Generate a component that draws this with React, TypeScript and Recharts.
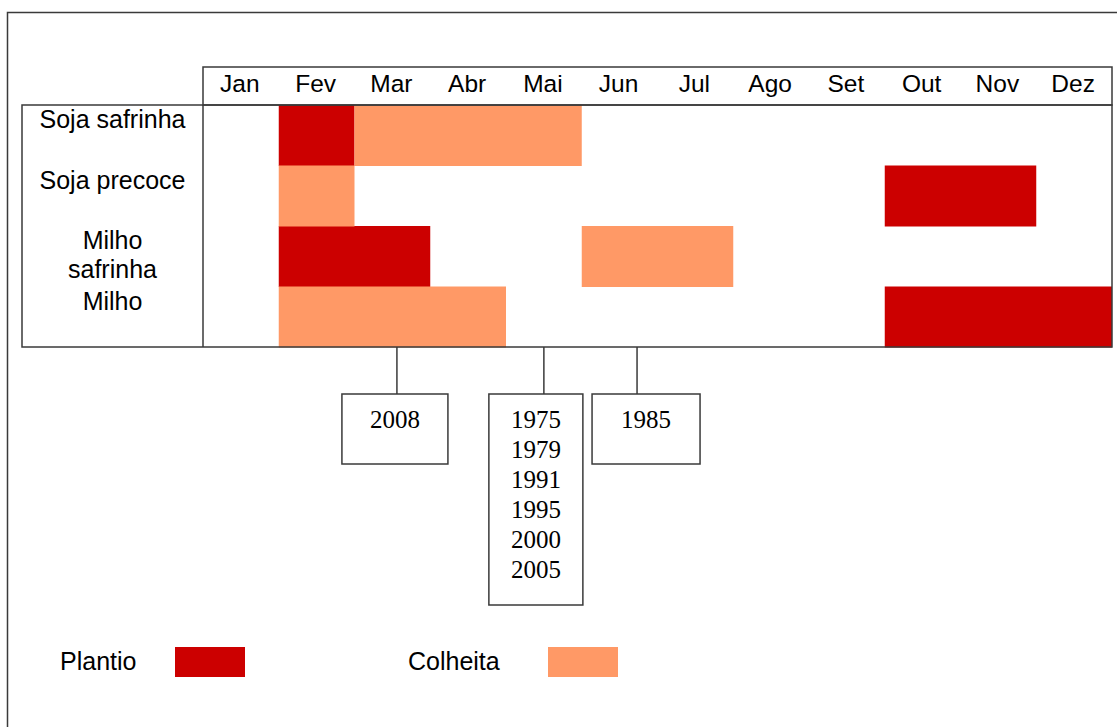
import React from 'react';
import { BarChart, Bar, XAxis, YAxis, ReferenceDot } from 'recharts';

const months = ['Jan', 'Fev', 'Mar', 'Abr', 'Mai', 'Jun', 'Jul', 'Ago', 'Set', 'Out', 'Nov', 'Dez'];
const crops = ['Soja safrinha', 'Soja precoce', 'Milho safrinha', 'Milho'];
const cropLines = [['Soja safrinha'], ['Soja precoce'], ['Milho', 'safrinha'], ['Milho']];
// [start, end) as month index (0 = Jan)
const plantio = [[1, 2], [9, 11], [1, 3], [9, 12]];
const colheita = [[2, 5], [1, 2], [5, 7], [1, 4]];
// year boxes hanging under the calendar, anchored at a month position
const notePos = [2.56, 4.5, 5.73];
const noteYears = [['2008'], ['1975', '1979', '1991', '1995', '2000', '2005'], ['1985']];

const series = [
  { key: 'plantio', name: 'Plantio', color: '#cc0000' },
  { key: 'colheita', name: 'Colheita', color: '#ff9966' },
];

const data = crops.map((crop, i) => ({ crop, plantio: plantio[i], colheita: colheita[i] }));
const monthTicks = months.map((_, i) => i + 0.5);

// layout
const W = 1117;
const H = 727;
const LEFT = 22;
const LABEL_W = 181;
const HEAD_TOP = 67;
const HEAD_H = 38;
const PLOT_RIGHT = 1112;
const PLOT_BOTTOM = 347;
const HALF_ROW = (PLOT_BOTTOM - HEAD_TOP - HEAD_H) / crops.length / 2;
const noteBoxes = [
  { dx: -55, w: 106, h: 70 },
  { dx: -55, w: 94, h: 211 },
  { dx: -45, w: 108, h: 70 },
];
const SANS = '"Liberation Sans", Arial, sans-serif';
const SERIF = '"Liberation Serif", "Times New Roman", serif';
const LINE = '#3a3a3a';

const MonthTick = (props: any) => (
  <text x={props.x - 1} y={92} textAnchor="middle" fontFamily={SANS} fontSize={24.5} fill="#000">
    {months[Math.floor(props.payload.value)]}
  </text>
);

const CropTick = (props: any) => {
  const idx = crops.indexOf(props.payload.value);
  const lines = cropLines[idx] || [props.payload.value];
  return (
    <g>
      {lines.map((l, k) => (
        <text key={k} x={LEFT + LABEL_W / 2} y={props.y - 7 + k * 29} textAnchor="middle"
          fontFamily={SANS} fontSize={25} fill="#000">
          {l}
        </text>
      ))}
    </g>
  );
};

const Note = ({ cx, cy, i }: { cx: number; cy: number; i: number }) => {
  const top = cy + HALF_ROW;
  const boxTop = top + 47;
  const b = noteBoxes[i];
  return (
    <g>
      <line x1={cx} y1={top} x2={cx} y2={boxTop} stroke={LINE} strokeWidth={1.5} />
      <rect x={cx + b.dx} y={boxTop} width={b.w} height={b.h} fill="#fff" stroke={LINE} strokeWidth={1.5} />
      {noteYears[i].map((yr, k) => (
        <text key={yr} x={cx + b.dx + b.w / 2} y={boxTop + 34 + k * 30} textAnchor="middle"
          fontFamily={SERIF} fontSize={25} fill="#000">
          {yr}
        </text>
      ))}
    </g>
  );
};

export default function App() {
  return (
    <div style={{ position: 'absolute', left: 0, top: 0, width: W, height: H, background: '#fff' }}>
      <BarChart
        width={W}
        height={H}
        data={data}
        layout="vertical"
        barCategoryGap={0}
        margin={{ top: HEAD_TOP, left: LEFT, right: W - PLOT_RIGHT, bottom: H - PLOT_BOTTOM }}
      >
        <XAxis
          type="number"
          orientation="top"
          domain={[0, 12]}
          ticks={monthTicks}
          interval={0}
          height={HEAD_H}
          axisLine={false}
          tickLine={false}
          tick={<MonthTick />}
        />
        <YAxis yAxisId="crop" type="category" dataKey="crop" width={LABEL_W}
          axisLine={false} tickLine={false} tick={<CropTick />} />
        <YAxis yAxisId="crop2" type="category" dataKey="crop" hide />
        <Bar yAxisId="crop" dataKey="plantio" name="Plantio" fill={series[0].color} isAnimationActive={false} />
        <Bar yAxisId="crop2" dataKey="colheita" name="Colheita" fill={series[1].color} isAnimationActive={false} />
        {notePos.map((pos, i) => (
          <ReferenceDot
            key={i}
            yAxisId="crop"
            x={pos}
            y="Milho"
            r={0}
            ifOverflow="visible"
            shape={(p: any) => <Note cx={p.cx} cy={p.cy} i={i} />}
          />
        ))}
      </BarChart>
      <svg width={W} height={H} style={{ position: 'absolute', left: 0, top: 0, pointerEvents: 'none' }}>
        <rect x={7.5} y={12.5} width={1300} height={900} fill="none" stroke={LINE} strokeWidth={1.5} />
        <rect x={LEFT + LABEL_W} y={HEAD_TOP} width={PLOT_RIGHT - LEFT - LABEL_W} height={HEAD_H}
          fill="none" stroke={LINE} strokeWidth={1.5} />
        <rect x={LEFT} y={HEAD_TOP + HEAD_H} width={PLOT_RIGHT - LEFT} height={PLOT_BOTTOM - HEAD_TOP - HEAD_H}
          fill="none" stroke={LINE} strokeWidth={1.5} />
        <line x1={LEFT + LABEL_W} y1={HEAD_TOP + HEAD_H} x2={LEFT + LABEL_W} y2={PLOT_BOTTOM}
          stroke={LINE} strokeWidth={1.5} />
        {series.map((s, i) => {
          const tx = i === 0 ? 60 : 408;
          const bx = i === 0 ? 175 : 548;
          return (
            <g key={s.key}>
              <text x={tx} y={670} fontFamily={SANS} fontSize={25} fill="#000">{s.name}</text>
              <rect x={bx} y={647} width={70} height={30} fill={s.color} />
            </g>
          );
        })}
      </svg>
    </div>
  );
}
